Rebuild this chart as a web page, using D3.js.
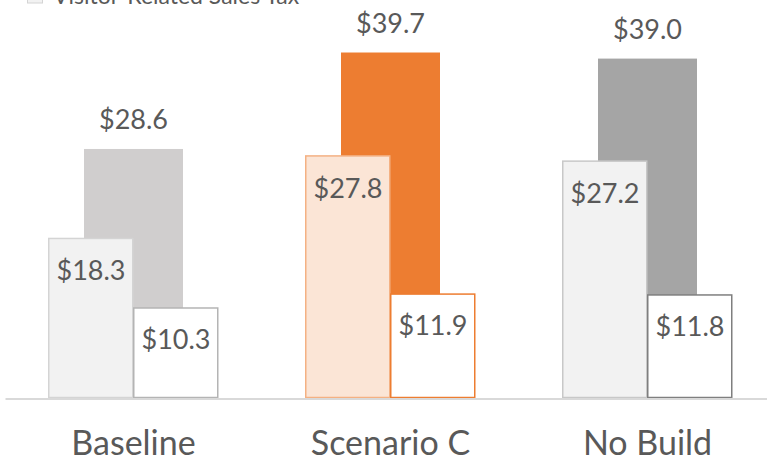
<!DOCTYPE html>
<html>
<head>
<meta charset="utf-8">
<script src="https://cdn.jsdelivr.net/npm/d3@7"></script>
<style>
  html, body { margin: 0; padding: 0; background: #ffffff; }
  svg { display: block; }
  text { font-family: Lato, "Open Sans", sans-serif; }
</style>
</head>
<body>
<svg id="chart" width="767" height="460"></svg>
<script>
// Sales tax by scenario ($ millions): total, visitor-related and the remainder
const categories = ["Baseline", "Scenario C", "No Build"];
const totalTax = [28.6, 39.7, 39.0];
const visitorTax = [18.3, 27.8, 27.2];
const otherTax = [10.3, 11.9, 11.8];
const legendLabels = ["Visitor-Related Sales Tax"];

// Per-scenario palette
const palette = {
  "Baseline":   { back: "#d0cece", frontFill: "#f2f2f2", frontStroke: "#d4d4d4", restStroke: "#b4b4b4" },
  "Scenario C": { back: "#ed7d31", frontFill: "#fbe5d6", frontStroke: "#f4b183", restStroke: "#ed7d31" },
  "No Build":   { back: "#a5a5a5", frontFill: "#f2f2f2", frontStroke: "#c8c8c8", restStroke: "#7f7f7f" }
};

const W = 767, H = 460;
const svg = d3.select("#chart");

const x = d3.scaleBand().domain(categories).range([5, 776]).padding(0);
const y = d3.scaleLinear().domain([0, 45]).range([397.5, 397.5 - 45 * 8.69]);
const center = c => x(c) + x.bandwidth() / 2;
const fmt = v => "$" + d3.format(".1f")(v);

const backW = 99, frontW = 85;
const textColor = "#595959";

const rows = categories.map((c, i) => ({
  cat: c, total: totalTax[i], visitor: visitorTax[i], other: otherTax[i]
}));

// Back bars: total sales tax
svg.append("g").selectAll("rect").data(rows).join("rect")
  .attr("x", d => center(d.cat) - backW / 2)
  .attr("width", backW)
  .attr("y", d => y(d.total))
  .attr("height", d => y(0) - y(d.total))
  .attr("fill", d => palette[d.cat].back);

// Front-left bars: visitor-related
svg.append("g").selectAll("rect").data(rows).join("rect")
  .attr("x", d => center(d.cat) - frontW + 0.25)
  .attr("width", frontW - 1)
  .attr("y", d => y(d.visitor))
  .attr("height", d => y(0) - y(d.visitor))
  .attr("fill", d => palette[d.cat].frontFill)
  .attr("stroke", d => palette[d.cat].frontStroke)
  .attr("stroke-width", 1.5);

// Front-right bars: remainder
svg.append("g").selectAll("rect").data(rows).join("rect")
  .attr("x", d => center(d.cat) + 0.25)
  .attr("width", frontW - 1)
  .attr("y", d => y(d.other))
  .attr("height", d => y(0) - y(d.other))
  .attr("fill", "#ffffff")
  .attr("stroke", d => palette[d.cat].restStroke)
  .attr("stroke-width", 1.5);

// Value labels
const labelSize = 27;
const labels = svg.append("g")
  .attr("font-size", labelSize)
  .attr("fill", textColor)
  .attr("text-anchor", "middle");

labels.selectAll("text.total").data(rows).join("text")
  .attr("class", "total")
  .attr("x", d => center(d.cat))
  .attr("y", d => y(d.total) - 20)
  .text(d => fmt(d.total));

labels.selectAll("text.visitor").data(rows).join("text")
  .attr("class", "visitor")
  .attr("x", d => center(d.cat) - frontW / 2)
  .attr("y", d => y(d.visitor) + 42)
  .text(d => fmt(d.visitor));

labels.selectAll("text.other").data(rows).join("text")
  .attr("class", "other")
  .attr("x", d => center(d.cat) + frontW / 2)
  .attr("y", d => y(d.other) + 41)
  .text(d => fmt(d.other));

// Category axis
const axis = svg.append("g")
  .attr("transform", `translate(0,${y(0) + 1})`)
  .call(d3.axisBottom(x).tickSize(0).tickPadding(0));
axis.select(".domain").attr("stroke", "#d9d9d9").attr("stroke-width", 2);
axis.selectAll(".tick text")
  .attr("y", 56)
  .attr("dy", 0)
  .attr("font-size", 34)
  .attr("font-family", "Lato, 'Open Sans', sans-serif")
  .attr("fill", textColor);

// Legend (partially above the top edge)
const legend = svg.append("g");
legend.append("rect")
  .attr("x", 27.5).attr("y", -13)
  .attr("width", 15).attr("height", 16)
  .attr("fill", "#f2f2f2").attr("stroke", "#d4d4d4");
legend.append("text")
  .attr("x", 53).attr("y", 4)
  .attr("font-size", 23)
  .attr("fill", textColor)
  .text(legendLabels[0]);
</script>
</body>
</html>
